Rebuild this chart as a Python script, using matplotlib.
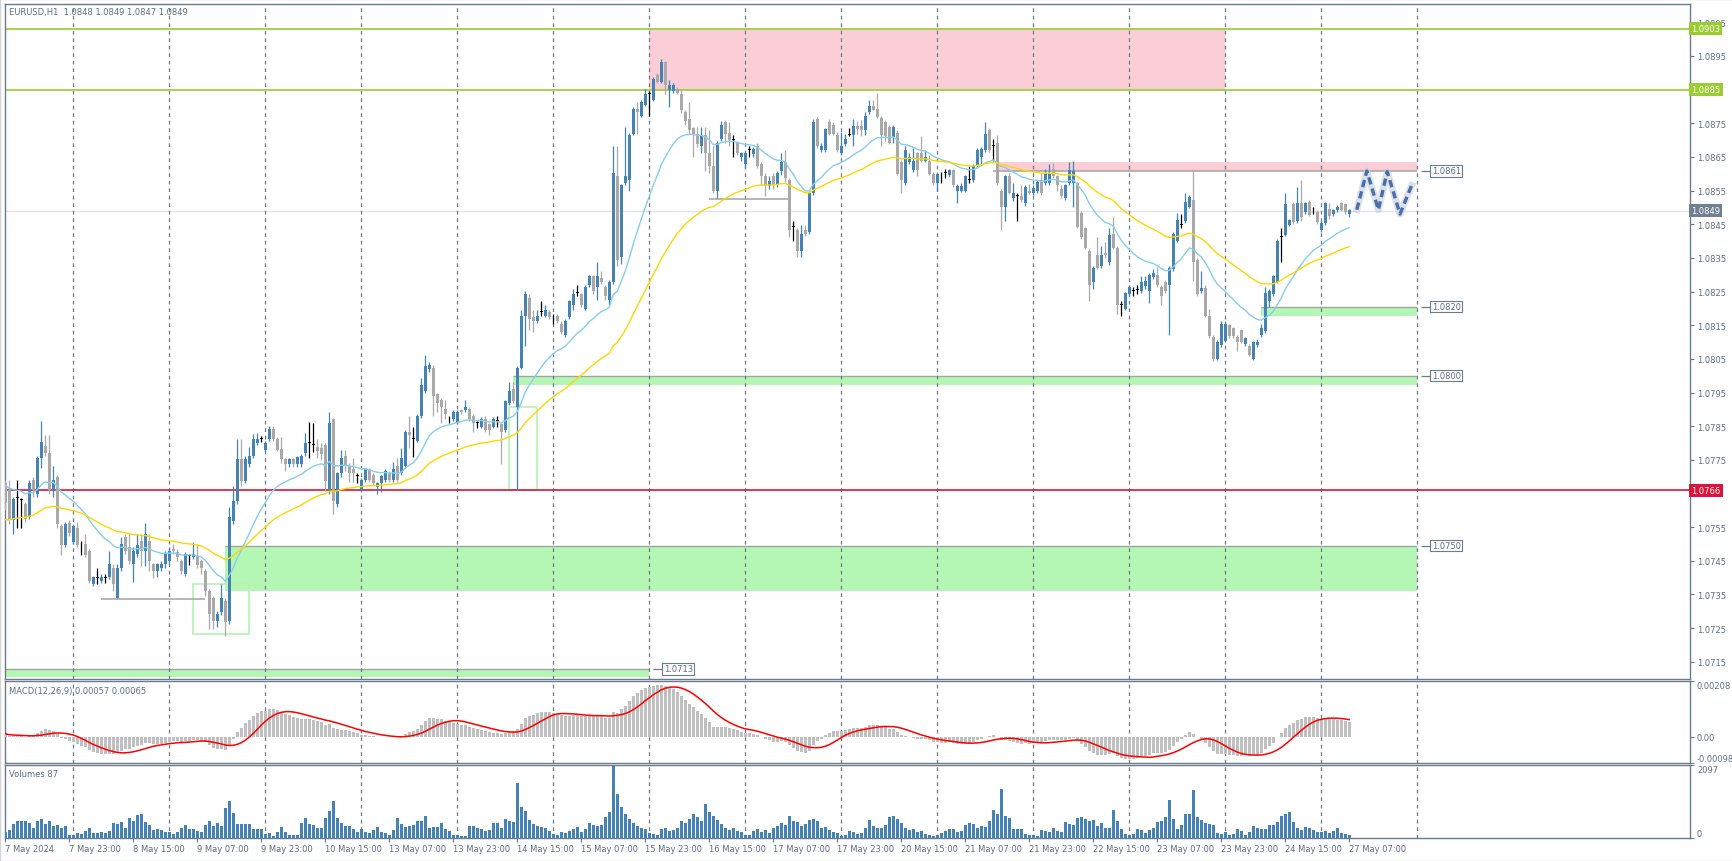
import numpy as np
import pandas as pd
import matplotlib
matplotlib.use('Agg')
import matplotlib.pyplot as plt
from matplotlib.patches import Rectangle

plt.rcParams['font.family'] = ['DejaVu Sans']

# ---- data (EURUSD H1, bar 0 = 7 May 07:00, bar 336 = 27 May 07:00) ----
opens = [
    1.07680, 1.07660, 1.07570, 1.07638, 1.07630, 1.07618, 1.07579, 1.07690, 1.07650, 1.07754, 1.07791, 1.07770, 1.07660, 1.07700, 1.07552, 1.07497, 1.07562,
    1.07505, 1.07549, 1.07490, 1.07500, 1.07480, 1.07381, 1.07399, 1.07391, 1.07399, 1.07401, 1.07430, 1.07341, 1.07430, 1.07520, 1.07490, 1.07440, 1.07470, 1.07510, 1.07480, 1.07510, 1.07440, 1.07420, 1.07430, 1.07440,
    1.07450, 1.07485, 1.07477, 1.07450, 1.07411, 1.07465, 1.07460, 1.07465, 1.07450, 1.07420, 1.07361, 1.07341, 1.07270, 1.07297, 1.07331, 1.07270, 1.07569, 1.07628, 1.07752, 1.07688, 1.07737, 1.07762, 1.07800, 1.07812,
    1.07780, 1.07812, 1.07843, 1.07812, 1.07782, 1.07752, 1.07737, 1.07752, 1.07737, 1.07737, 1.07769, 1.07800, 1.07794, 1.07787, 1.07784, 1.07794, 1.07658, 1.07871, 1.07620, 1.07712, 1.07761, 1.07733, 1.07722, 1.07701,
    1.07659, 1.07690, 1.07722, 1.07706, 1.07669, 1.07680, 1.07690, 1.07712, 1.07690, 1.07733, 1.07712, 1.07733, 1.07834, 1.07812, 1.07807, 1.07881, 1.07955, 1.08019, 1.08024, 1.07945, 1.07929, 1.07902, 1.07876, 1.07871,
    1.07860, 1.07897, 1.07897, 1.07902, 1.07881, 1.07860, 1.07849, 1.07871, 1.07855, 1.07849, 1.07865, 1.07855, 1.07839, 1.07918, 1.07961, 1.07908, 1.08024, 1.08178, 1.08231, 1.08173, 1.08162, 1.08189, 1.08178, 1.08189,
    1.08173, 1.08178, 1.08152, 1.08120, 1.08173, 1.08210, 1.08247, 1.08242, 1.08199, 1.08268, 1.08295, 1.08263, 1.08290, 1.08263, 1.08226, 1.08279, 1.08592, 1.08353, 1.08571, 1.08581, 1.08719, 1.08793, 1.08772, 1.08804,
    1.08836, 1.08820, 1.08894, 1.08873, 1.08931, 1.08849, 1.08846, 1.08852, 1.08836, 1.08783, 1.08761, 1.08735, 1.08719, 1.08682, 1.08714, 1.08661, 1.08624, 1.08549, 1.08703, 1.08754, 1.08722, 1.08701, 1.08692, 1.08650,
    1.08629, 1.08671, 1.08659, 1.08682, 1.08629, 1.08592, 1.08563, 1.08592, 1.08565, 1.08608, 1.08634, 1.08581, 1.08443, 1.08433, 1.08369, 1.08433, 1.08427, 1.08544, 1.08761, 1.08671, 1.08671, 1.08754, 1.08745, 1.08714,
    1.08661, 1.08687, 1.08714, 1.08714, 1.08742, 1.08742, 1.08730, 1.08783, 1.08801, 1.08793, 1.08765, 1.08754, 1.08740, 1.08708, 1.08722, 1.08634, 1.08571, 1.08634, 1.08610, 1.08661, 1.08661, 1.08639, 1.08639, 1.08599,
    1.08571, 1.08592, 1.08602, 1.08597, 1.08610, 1.08549, 1.08549, 1.08549, 1.08581, 1.08581, 1.08624, 1.08650, 1.08671, 1.08730, 1.08682, 1.08692, 1.08549, 1.08502, 1.08592, 1.08528, 1.08533, 1.08533, 1.08512, 1.08549,
    1.08544, 1.08549, 1.08581, 1.08571, 1.08571, 1.08613, 1.08592, 1.08555, 1.08528, 1.08571, 1.08571, 1.08571, 1.08483, 1.08438, 1.08369, 1.08279, 1.08358, 1.08327, 1.08364, 1.08337, 1.08422, 1.08380, 1.08210, 1.08199,
    1.08242, 1.08252, 1.08255, 1.08252, 1.08266, 1.08252, 1.08292, 1.08300, 1.08263, 1.08279, 1.08268, 1.08316, 1.08401, 1.08449, 1.08459, 1.08502, 1.08521, 1.08343, 1.08252, 1.08260, 1.08178, 1.08115, 1.08051, 1.08090,
    1.08104, 1.08150, 1.08141, 1.08115, 1.08136, 1.08093, 1.08088, 1.08051, 1.08090, 1.08120, 1.08133, 1.08221, 1.08242, 1.08279, 1.08411, 1.08419, 1.08449, 1.08510, 1.08459, 1.08514, 1.08486, 1.08517, 1.08491, 1.08486,
    1.08433, 1.08454, 1.08496, 1.08480, 1.08491, 1.08512, 1.08510, 1.08480,
]
highs = [
    1.07690, 1.07690, 1.07640, 1.07690, 1.07638, 1.07625, 1.07690, 1.07700, 1.07760, 1.07865, 1.07823, 1.07823, 1.07733, 1.07706, 1.07559, 1.07565, 1.07570,
    1.07560, 1.07565, 1.07510, 1.07529, 1.07485, 1.07405, 1.07430, 1.07410, 1.07411, 1.07480, 1.07440, 1.07440, 1.07520, 1.07530, 1.07529, 1.07490, 1.07529, 1.07529, 1.07562, 1.07529, 1.07445, 1.07445, 1.07450, 1.07480,
    1.07490, 1.07500, 1.07485, 1.07455, 1.07475, 1.07470, 1.07505, 1.07500, 1.07455, 1.07425, 1.07365, 1.07345, 1.07300, 1.07381, 1.07340, 1.07609, 1.07673, 1.07812, 1.07812, 1.07760, 1.07787, 1.07826, 1.07829, 1.07821,
    1.07805, 1.07851, 1.07850, 1.07817, 1.07817, 1.07755, 1.07755, 1.07755, 1.07762, 1.07767, 1.07829, 1.07863, 1.07860, 1.07812, 1.07800, 1.07800, 1.07892, 1.07875, 1.07715, 1.07780, 1.07780, 1.07740, 1.07754, 1.07712,
    1.07695, 1.07727, 1.07727, 1.07712, 1.07685, 1.07706, 1.07722, 1.07717, 1.07743, 1.07754, 1.07786, 1.07840, 1.07881, 1.07849, 1.07885, 1.07993, 1.08062, 1.08040, 1.08033, 1.07950, 1.07935, 1.07929, 1.07881, 1.07897,
    1.07897, 1.07902, 1.07929, 1.07908, 1.07887, 1.07865, 1.07876, 1.07881, 1.07860, 1.07876, 1.07881, 1.07860, 1.07929, 1.07982, 1.07982, 1.08030, 1.08194, 1.08252, 1.08242, 1.08194, 1.08194, 1.08221, 1.08210, 1.08194,
    1.08183, 1.08183, 1.08162, 1.08168, 1.08226, 1.08258, 1.08268, 1.08247, 1.08268, 1.08300, 1.08300, 1.08337, 1.08311, 1.08268, 1.08284, 1.08682, 1.08682, 1.08570, 1.08740, 1.08720, 1.08798, 1.08814, 1.08820, 1.08852,
    1.08846, 1.08886, 1.08900, 1.08942, 1.08936, 1.08878, 1.08870, 1.08857, 1.08852, 1.08790, 1.08814, 1.08740, 1.08740, 1.08740, 1.08740, 1.08730, 1.08682, 1.08698, 1.08756, 1.08760, 1.08754, 1.08714, 1.08698, 1.08665,
    1.08665, 1.08682, 1.08680, 1.08690, 1.08635, 1.08602, 1.08592, 1.08602, 1.08608, 1.08661, 1.08671, 1.08586, 1.08459, 1.08438, 1.08449, 1.08449, 1.08550, 1.08761, 1.08767, 1.08692, 1.08735, 1.08761, 1.08754, 1.08724,
    1.08724, 1.08719, 1.08735, 1.08761, 1.08756, 1.08758, 1.08783, 1.08820, 1.08818, 1.08841, 1.08770, 1.08760, 1.08745, 1.08745, 1.08730, 1.08640, 1.08682, 1.08661, 1.08677, 1.08665, 1.08712, 1.08671, 1.08655, 1.08605,
    1.08605, 1.08606, 1.08613, 1.08615, 1.08615, 1.08568, 1.08571, 1.08597, 1.08624, 1.08630, 1.08676, 1.08678, 1.08754, 1.08735, 1.08703, 1.08714, 1.08555, 1.08597, 1.08602, 1.08571, 1.08544, 1.08565, 1.08565, 1.08570,
    1.08565, 1.08581, 1.08602, 1.08613, 1.08629, 1.08631, 1.08597, 1.08565, 1.08570, 1.08634, 1.08639, 1.08576, 1.08490, 1.08443, 1.08375, 1.08326, 1.08411, 1.08385, 1.08396, 1.08440, 1.08470, 1.08385, 1.08221, 1.08250,
    1.08268, 1.08263, 1.08268, 1.08295, 1.08295, 1.08305, 1.08316, 1.08324, 1.08268, 1.08284, 1.08326, 1.08427, 1.08483, 1.08480, 1.08542, 1.08536, 1.08610, 1.08350, 1.08311, 1.08268, 1.08199, 1.08120, 1.08106, 1.08162,
    1.08162, 1.08152, 1.08146, 1.08120, 1.08139, 1.08116, 1.08093, 1.08104, 1.08109, 1.08152, 1.08263, 1.08258, 1.08300, 1.08406, 1.08440, 1.08542, 1.08466, 1.08515, 1.08560, 1.08581, 1.08517, 1.08522, 1.08502, 1.08491,
    1.08459, 1.08517, 1.08512, 1.08496, 1.08507, 1.08517, 1.08512, 1.08496,
]
lows = [
    1.07600, 1.07560, 1.07530, 1.07549, 1.07549, 1.07564, 1.07575, 1.07640, 1.07640, 1.07727, 1.07760, 1.07648, 1.07640, 1.07549, 1.07467, 1.07490, 1.07525,
    1.07500, 1.07490, 1.07467, 1.07460, 1.07385, 1.07375, 1.07381, 1.07385, 1.07383, 1.07395, 1.07361, 1.07339, 1.07420, 1.07470, 1.07440, 1.07386, 1.07460, 1.07435, 1.07435, 1.07420, 1.07400, 1.07401, 1.07420, 1.07430,
    1.07440, 1.07470, 1.07450, 1.07411, 1.07405, 1.07438, 1.07455, 1.07430, 1.07411, 1.07346, 1.07249, 1.07247, 1.07252, 1.07290, 1.07227, 1.07262, 1.07560, 1.07620, 1.07673, 1.07680, 1.07730, 1.07755, 1.07795, 1.07804,
    1.07775, 1.07805, 1.07805, 1.07775, 1.07742, 1.07718, 1.07730, 1.07730, 1.07730, 1.07730, 1.07760, 1.07754, 1.07772, 1.07754, 1.07750, 1.07658, 1.07650, 1.07589, 1.07610, 1.07700, 1.07717, 1.07685, 1.07685, 1.07680,
    1.07655, 1.07685, 1.07685, 1.07674, 1.07648, 1.07653, 1.07685, 1.07685, 1.07685, 1.07685, 1.07705, 1.07728, 1.07786, 1.07759, 1.07802, 1.07875, 1.07950, 1.08010, 1.07881, 1.07892, 1.07860, 1.07871, 1.07860, 1.07865,
    1.07855, 1.07887, 1.07892, 1.07865, 1.07834, 1.07844, 1.07844, 1.07834, 1.07823, 1.07844, 1.07849, 1.07738, 1.07834, 1.07912, 1.07918, 1.07659, 1.08019, 1.08088, 1.08136, 1.08130, 1.08155, 1.08178, 1.08173, 1.08168,
    1.08152, 1.08155, 1.08125, 1.08115, 1.08168, 1.08194, 1.08236, 1.08205, 1.08194, 1.08263, 1.08242, 1.08226, 1.08273, 1.08226, 1.08210, 1.08273, 1.08327, 1.08332, 1.08565, 1.08549, 1.08714, 1.08719, 1.08767, 1.08800,
    1.08772, 1.08815, 1.08868, 1.08868, 1.08836, 1.08799, 1.08840, 1.08836, 1.08780, 1.08745, 1.08719, 1.08650, 1.08680, 1.08661, 1.08608, 1.08602, 1.08544, 1.08528, 1.08698, 1.08692, 1.08682, 1.08650, 1.08655, 1.08639,
    1.08618, 1.08650, 1.08650, 1.08618, 1.08565, 1.08533, 1.08555, 1.08555, 1.08560, 1.08597, 1.08576, 1.08411, 1.08401, 1.08353, 1.08353, 1.08415, 1.08422, 1.08538, 1.08677, 1.08665, 1.08665, 1.08714, 1.08714, 1.08665,
    1.08655, 1.08682, 1.08712, 1.08682, 1.08719, 1.08712, 1.08714, 1.08778, 1.08788, 1.08765, 1.08682, 1.08698, 1.08687, 1.08692, 1.08595, 1.08542, 1.08565, 1.08630, 1.08605, 1.08592, 1.08635, 1.08635, 1.08595, 1.08565,
    1.08549, 1.08571, 1.08586, 1.08590, 1.08560, 1.08512, 1.08545, 1.08545, 1.08571, 1.08576, 1.08618, 1.08629, 1.08665, 1.08665, 1.08639, 1.08565, 1.08433, 1.08459, 1.08539, 1.08520, 1.08459, 1.08515, 1.08505, 1.08540,
    1.08538, 1.08544, 1.08538, 1.08565, 1.08565, 1.08586, 1.08549, 1.08528, 1.08523, 1.08565, 1.08502, 1.08438, 1.08405, 1.08375, 1.08221, 1.08258, 1.08316, 1.08321, 1.08350, 1.08330, 1.08375, 1.08183, 1.08178, 1.08195,
    1.08237, 1.08236, 1.08242, 1.08247, 1.08258, 1.08215, 1.08288, 1.08263, 1.08210, 1.08247, 1.08120, 1.08311, 1.08396, 1.08438, 1.08454, 1.08497, 1.08281, 1.08237, 1.08247, 1.08173, 1.08113, 1.08045, 1.08046, 1.08085,
    1.08099, 1.08113, 1.08113, 1.08072, 1.08096, 1.08088, 1.08057, 1.08046, 1.08085, 1.08115, 1.08128, 1.08205, 1.08237, 1.08274, 1.08337, 1.08414, 1.08444, 1.08452, 1.08454, 1.08459, 1.08481, 1.08473, 1.08480, 1.08452,
    1.08428, 1.08449, 1.08464, 1.08475, 1.08486, 1.08488, 1.08481, 1.08470,
]
closes = [
    1.07621, 1.07575, 1.07633, 1.07638, 1.07630, 1.07574, 1.07680, 1.07660, 1.07754, 1.07802, 1.07770, 1.07660, 1.07690, 1.07559, 1.07497, 1.07559, 1.07534,
    1.07554, 1.07497, 1.07490, 1.07467, 1.07391, 1.07401, 1.07399, 1.07401, 1.07399, 1.07440, 1.07381, 1.07430, 1.07500, 1.07480, 1.07450, 1.07480, 1.07497, 1.07480, 1.07529, 1.07450, 1.07420, 1.07440, 1.07440, 1.07470,
    1.07480, 1.07478, 1.07460, 1.07420, 1.07470, 1.07465, 1.07470, 1.07438, 1.07430, 1.07361, 1.07292, 1.07272, 1.07292, 1.07341, 1.07267, 1.07579, 1.07628, 1.07752, 1.07688, 1.07752, 1.07762, 1.07812, 1.07812, 1.07812,
    1.07800, 1.07843, 1.07812, 1.07780, 1.07752, 1.07737, 1.07752, 1.07737, 1.07757, 1.07762, 1.07800, 1.07800, 1.07794, 1.07777, 1.07767, 1.07688, 1.07860, 1.07628, 1.07710, 1.07754, 1.07733, 1.07712, 1.07712, 1.07701,
    1.07690, 1.07722, 1.07690, 1.07680, 1.07680, 1.07701, 1.07717, 1.07690, 1.07722, 1.07690, 1.07754, 1.07834, 1.07823, 1.07812, 1.07881, 1.07971, 1.08030, 1.08033, 1.07940, 1.07918, 1.07908, 1.07887, 1.07876, 1.07892,
    1.07892, 1.07892, 1.07908, 1.07871, 1.07860, 1.07860, 1.07871, 1.07839, 1.07839, 1.07871, 1.07865, 1.07834, 1.07924, 1.07955, 1.07924, 1.08024, 1.08178, 1.08242, 1.08168, 1.08162, 1.08178, 1.08189, 1.08194, 1.08173,
    1.08173, 1.08162, 1.08130, 1.08162, 1.08221, 1.08242, 1.08247, 1.08210, 1.08263, 1.08295, 1.08252, 1.08295, 1.08279, 1.08236, 1.08279, 1.08602, 1.08343, 1.08565, 1.08592, 1.08714, 1.08793, 1.08783, 1.08814, 1.08836,
    1.08836, 1.08881, 1.08873, 1.08931, 1.08862, 1.08864, 1.08864, 1.08841, 1.08788, 1.08756, 1.08730, 1.08719, 1.08687, 1.08714, 1.08661, 1.08624, 1.08549, 1.08692, 1.08745, 1.08719, 1.08700, 1.08701, 1.08661, 1.08661,
    1.08661, 1.08671, 1.08673, 1.08624, 1.08592, 1.08563, 1.08579, 1.08565, 1.08602, 1.08634, 1.08586, 1.08433, 1.08443, 1.08369, 1.08422, 1.08422, 1.08544, 1.08754, 1.08682, 1.08682, 1.08733, 1.08719, 1.08719, 1.08671,
    1.08682, 1.08703, 1.08714, 1.08742, 1.08732, 1.08730, 1.08772, 1.08801, 1.08790, 1.08769, 1.08714, 1.08712, 1.08692, 1.08740, 1.08599, 1.08581, 1.08671, 1.08650, 1.08639, 1.08610, 1.08639, 1.08650, 1.08599, 1.08571,
    1.08599, 1.08592, 1.08602, 1.08610, 1.08565, 1.08563, 1.08563, 1.08592, 1.08581, 1.08624, 1.08671, 1.08673, 1.08719, 1.08671, 1.08682, 1.08571, 1.08502, 1.08592, 1.08544, 1.08544, 1.08533, 1.08521, 1.08560, 1.08542,
    1.08557, 1.08576, 1.08542, 1.08602, 1.08602, 1.08592, 1.08565, 1.08533, 1.08565, 1.08610, 1.08608, 1.08443, 1.08411, 1.08380, 1.08268, 1.08321, 1.08321, 1.08358, 1.08358, 1.08419, 1.08380, 1.08210, 1.08210, 1.08245,
    1.08263, 1.08252, 1.08255, 1.08279, 1.08281, 1.08300, 1.08304, 1.08268, 1.08236, 1.08252, 1.08321, 1.08422, 1.08461, 1.08449, 1.08517, 1.08531, 1.08337, 1.08242, 1.08260, 1.08178, 1.08118, 1.08051, 1.08101, 1.08152,
    1.08152, 1.08118, 1.08118, 1.08099, 1.08101, 1.08111, 1.08062, 1.08099, 1.08101, 1.08141, 1.08245, 1.08252, 1.08295, 1.08401, 1.08411, 1.08510, 1.08461, 1.08457, 1.08514, 1.08470, 1.08514, 1.08478, 1.08491, 1.08457,
    1.08454, 1.08512, 1.08475, 1.08491, 1.08502, 1.08493, 1.08486, 1.08491,
]
volumes = [
    163, 230, 402, 498, 478, 478, 431, 278, 498, 545, 402, 478, 354, 373, 287, 335, 96,
    96, 144, 105, 191, 287, 144, 144, 163, 144, 191, 431, 402, 469, 287, 565, 498, 660, 689, 450, 373, 230, 258, 230, 163,
    182, 115, 182, 278, 373, 258, 258, 201, 172, 373, 478, 354, 431, 354, 861, 1062, 718, 402, 402, 402, 402, 258, 258, 258,
    124, 144, 67, 182, 306, 182, 86, 86, 86, 431, 565, 402, 373, 278, 278, 565, 785, 1062, 565, 431, 335, 354, 258, 163,
    258, 163, 144, 239, 306, 182, 144, 96, 230, 574, 402, 306, 335, 373, 498, 498, 641, 297, 306, 306, 431, 258, 211, 96,
    96, 67, 67, 335, 335, 278, 258, 211, 230, 431, 431, 300, 560, 480, 450, 1580, 900, 780, 520, 400, 350, 320, 280, 200,
    120, 90, 180, 150, 210, 260, 330, 180, 250, 420, 380, 340, 360, 600, 760, 2097, 1250, 900, 700, 560, 430, 350, 300, 260,
    150, 120, 100, 250, 300, 200, 240, 280, 480, 420, 560, 700, 600, 500, 980, 760, 620, 520, 400, 300, 240, 280, 200, 160,
    100, 80, 200, 260, 180, 220, 150, 280, 350, 420, 360, 620, 500, 460, 340, 400, 520, 560, 480, 280, 320, 230, 180, 150,
    60, 100, 200, 160, 120, 150, 280, 520, 350, 300, 280, 380, 600, 620, 550, 420, 300, 220, 260, 160, 200, 120, 100, 70,
    80, 140, 200, 260, 260, 180, 200, 380, 440, 400, 300, 350, 320, 500, 800, 680, 1400, 640, 580, 260, 260, 260, 120, 80,
    80, 60, 230, 200, 180, 300, 200, 180, 450, 400, 360, 580, 600, 540, 480, 520, 350, 420, 290, 300, 800, 500, 260, 110,
    90, 120, 260, 220, 150, 240, 300, 450, 500, 600, 1100, 560, 260, 380, 700, 700, 1380, 600, 520, 440, 400, 380, 150, 110,
    160, 80, 120, 260, 200, 100, 160, 350, 300, 260, 250, 380, 380, 460, 620, 680, 750, 450, 300, 240, 320, 280, 220, 180,
    160, 200, 140, 200, 280, 150, 120, 87,
]

time_labels = ['7 May 2024', '7 May 23:00', '8 May 15:00', '9 May 07:00', '9 May 23:00',
               '10 May 15:00', '13 May 07:00', '13 May 23:00', '14 May 15:00', '15 May 07:00',
               '15 May 23:00', '16 May 15:00', '17 May 07:00', '17 May 23:00', '20 May 15:00',
               '21 May 07:00', '21 May 23:00', '22 May 15:00', '23 May 07:00', '23 May 23:00',
               '24 May 15:00', '27 May 07:00']
label_bars = list(range(0, 337, 16))
day_starts = list(range(17, 354, 24))

# horizontal levels (price) and drawn zones (bar_from, bar_to, low, high)
resistance_lines = [1.0903, 1.0885]
pivot_line = 1.0766
bid_price = 1.0849
pink_zones = [(161, 305, 1.0885, 1.0903), (248, 353, 1.08608, 1.08634)]
green_zones = [(314, 353, 1.08178, 1.08205), (127, 353, 1.07973, 1.0800),
               (55, 353, 1.07361, 1.07495), (-0.2, 161, 1.07106, 1.07129)]
zone_labels = ['1.0820', '1.0800', '1.0750', '1.0713']
box_zones = [(47, 61, 1.07232, 1.07381), (126, 133, 1.07659, 1.07908)]
grey_lines = [(24, 50, 1.07338), (176, 196, 1.08524), (247, 353, 1.08608)]
zigzag_x = [337.9, 340.4, 343.3, 345.5, 348.7, 351.6]
zigzag_y = [1.08493, 1.08608, 1.08493, 1.08606, 1.08480, 1.08565]

assert len(opens) == len(highs) == len(lows) == len(closes) == len(volumes) == 337

# ---- indicators ----
def ema(vals, n, seed):
    k = 2.0 / (n + 1)
    out, e = [], seed
    for v in vals:
        e = e + k * (v - e)
        out.append(e)
    return np.array(out)

c = np.array(closes)
ma_fast = ema(c, 20, 1.0768)
ma_slow = ema(c, 50, 1.0757)
macd = ema(c, 12, 1.07655) - ema(c, 26, 1.07640)
signal = pd.Series(macd).rolling(9, min_periods=1).mean().values

# ---- figure ----
W, H = 1733, 862
fig = plt.figure(figsize=(W / 100, H / 100), dpi=100)
fig.patch.set_facecolor('white')

def panel(top, bottom, left=4.5, right=1690):
    return fig.add_axes([left / W, 1 - bottom / H, (right - left) / W, (bottom - top) / H])

ax = panel(5, 680)
axm = panel(682, 764)
axv = panel(766, 839)

frame = '#6b7a8c'
txt = '#5f6e82'
bull = '#4682b4'
bear = '#a9a9a9'
pink = '#facdd7'
green = '#b4f7b4'

x = np.arange(len(closes))
o, h, l = np.array(opens), np.array(highs), np.array(lows)
doji = np.isclose(o, c, atol=1e-6)
cols = np.where(doji, 'black', np.where(c > o, bull, bear))

for a in (ax, axm, axv):
    a.set_xlim(-0.2, 421.2)
    for s in a.spines.values():
        s.set_color(frame)
        s.set_linewidth(1)
    for d in day_starts:
        a.axvline(d, color='#6f7884', lw=0.9, ls=(0, (3, 3)), zorder=1.5)
    a.yaxis.tick_right()
    a.tick_params(axis='y', direction='out', length=3, color=frame, labelcolor=txt,
                  labelsize=6, pad=2)
    a.tick_params(axis='x', bottom=False, labelbottom=False)

# main chart
ax.set_ylim(1.07099, 1.09104)
for b0, b1, lo, hi in pink_zones:
    ax.add_patch(Rectangle((b0, lo), b1 - b0, hi - lo, fc=pink, ec='none', zorder=1))
for b0, b1, lo, hi in green_zones:
    ax.add_patch(Rectangle((b0, lo), b1 - b0, hi - lo, fc=green, ec='none', zorder=1))
    ax.hlines(hi, b0, b1, color='#a3a3a3', lw=1, zorder=1.2)
for b0, b1, lo, hi in box_zones:
    ax.add_patch(Rectangle((b0, lo), b1 - b0, hi - lo, fill=False, ec='#b8f0b8', lw=1.2, zorder=2))
for b0, b1, y in grey_lines:
    ax.hlines(y, b0, b1, color='#a3a3a3', lw=1.1, zorder=2)

for y in resistance_lines:
    ax.axhline(y, color='#9acd32', lw=1.2, zorder=2)
ax.axhline(pivot_line, color='#dc143c', lw=1.2, zorder=2)
ax.axhline(bid_price, color='#e2e2f0', lw=1, zorder=1.1)

ax.vlines(x, l, h, colors=cols, lw=0.9, zorder=3)
ax.bar(x, np.maximum(np.abs(c - o), 0.000025), bottom=np.minimum(o, c), width=0.75,
       color=cols, linewidth=0, zorder=4)

ax.plot(x, ma_fast, color='#87ceeb', lw=1, zorder=5)
ax.plot(x, ma_slow, color='#ffd700', lw=1, zorder=5)

ax.plot(zigzag_x, zigzag_y, color='#c5cedb', lw=5, alpha=0.6, zorder=5.5)
ax.plot(zigzag_x, zigzag_y, color='#4a6ea8', lw=2.4, ls=(0, (2.2, 1.3)), zorder=6)

# zone labels
for (b0, b1, lo, hi), lab in zip(green_zones, zone_labels):
    ax.hlines(hi, b1 + 1, b1 + 3.5, color=frame, lw=0.9, zorder=6)
    ax.text(b1 + 3.6, hi, lab, fontsize=6, color=txt, va='center', ha='left', zorder=7,
            bbox=dict(boxstyle='square,pad=0.15', fc='white', ec=frame, lw=0.8))
ax.hlines(1.08608, 354, 356.5, color=frame, lw=0.9, zorder=6)
ax.text(356.6, 1.08608, '1.0861', fontsize=6, color=txt, va='center', ha='left', zorder=7,
        bbox=dict(boxstyle='square,pad=0.15', fc='white', ec=frame, lw=0.8))

# right price scale; levels covered by the coloured price boxes carry no tick text
tick_vals = np.round(np.arange(1.0715, 1.09055, 0.001), 4)
covered = [1.0885, 1.0765]
ax.set_yticks(tick_vals)
ax.set_yticklabels(['' if np.isclose(v, covered).any() else f'{v:.4f}' for v in tick_vals])
ytr = ax.get_yaxis_transform()
for y, fc in [(1.0903, '#9acd32'), (1.0885, '#9acd32'), (bid_price, '#708090'), (pivot_line, '#dc143c')]:
    ax.text(1.0008, y, f'{y:.4f}', transform=ytr, fontsize=6, color='white', va='center', ha='left',
            clip_on=False, zorder=10,
            bbox=dict(boxstyle='square,pad=0.25', fc=fc, ec='none'))

# MACD panel
axm.set_ylim(-0.00098, 0.00208)
axm.bar(x, macd, width=0.75, color='#c0c0c0', linewidth=0, zorder=3)
axm.plot(x, signal, color='#ff0000', lw=1.1, zorder=4)
axm.set_yticks([-0.00098, 0.0, 0.00208])
axm.set_yticklabels(['-0.00098', '0.00', '0.00208'])
tl = axm.get_yticklabels()
tl[0].set_va('bottom')
tl[2].set_va('top')

# volume panel
axv.set_ylim(0, 2097)
axv.bar(x, volumes, width=0.75, color=bull, linewidth=0, zorder=3)
axv.set_yticks([0, 2097])
axv.set_yticklabels(['0', '2097'])
tl = axv.get_yticklabels()
tl[0].set_va('bottom')
tl[1].set_va('top')
axv.tick_params(axis='x', bottom=True, labelbottom=True, direction='out', length=3,
                color=frame, labelcolor=txt, labelsize=6, pad=1)
axv.set_xticks(label_bars)
axv.set_xticklabels(time_labels, ha='left')

# titles
fig.text(9 / W, 1 - 13 / H, 'EURUSD,H1  1.0848 1.0849 1.0847 1.0849', fontsize=6, color=txt, va='center')
fig.text(9 / W, 1 - 692 / H, 'MACD(12,26,9) 0.00057 0.00065', fontsize=6, color=txt, va='center')
fig.text(9 / W, 1 - 775 / H, 'Volumes 87', fontsize=6, color=txt, va='center')

fig.patches.append(Rectangle((0, 0), 1, 1, transform=fig.transFigure, fill=False, ec='#d4d4d4', lw=1))

fig.savefig('out.png', dpi=100)
